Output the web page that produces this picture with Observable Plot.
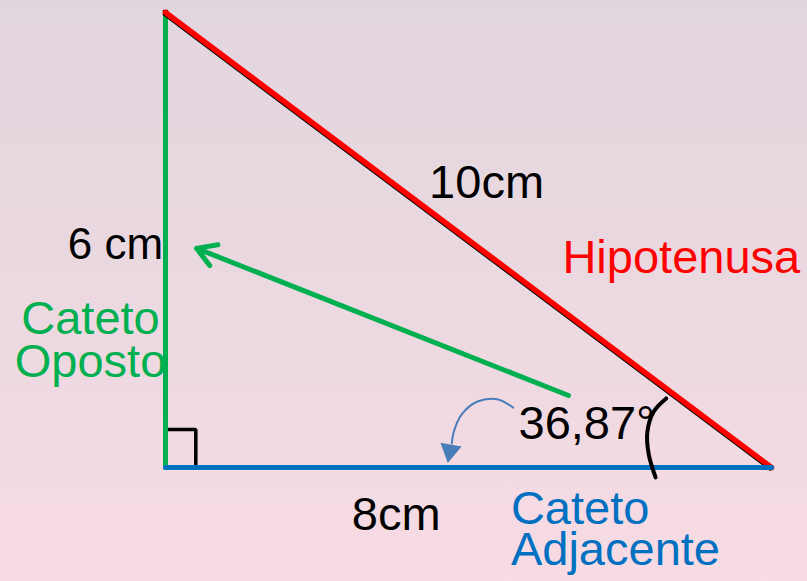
<!DOCTYPE html>
<html><head><meta charset="utf-8">
<script src="https://cdn.jsdelivr.net/npm/d3@7"></script>
<script src="https://cdn.jsdelivr.net/npm/@observablehq/plot@0.6"></script>
<style>html,body{margin:0;padding:0;background:#f3dae2;overflow:hidden}</style>
</head><body><div id="chart"></div>
<script>
// Data (cm)
const sideKeys = ["adjacente", "oposto", "hipotenusa"];
const sideLengths = [8, 6, 10];
const sideLabels = ["8cm", "6 cm", "10cm"];
const nameLabels = ["Cateto\nAdjacente", "Cateto\nOposto", "Hipotenusa"];
const sideColors = ["#0070c0", "#00b050", "#ff0000"];
const angleValue = [36.87];
const angleLabels = ["36,87°"];

const A = {x: 0, y: 0};
const B = {x: sideLengths[0], y: 0};
const C = {x: 0, y: sideLengths[1]};

const font = "Liberation Sans, Arial, sans-serif";
const fs = 47;

// label anchors in cm (diagram units)
const sideLabelPos = [
  {x: 2.46, y: -0.83, fs: 47},
  {x: -1.29, y: 2.75, fs: 44},
  {x: 3.48, y: 3.55, fs: 47}
];
const namePos = [
  {x: 4.56, y: -1.29},
  {x: -0.99, y: 1.19},
  {x: 5.24, y: 2.56}
];

const sideText = sideLabels.map((t, i) => ({t, ...sideLabelPos[i]}));
const nameText = nameLabels.map((t, i) => ({t, c: sideColors[i], ...namePos[i]}));

const arcPts = [
  {x: 6.61, y: 0.91}, {x: 6.44, y: 0.73}, {x: 6.36, y: 0.46},
  {x: 6.38, y: 0.17}, {x: 6.47, y: -0.13}
];
const rightMark = [{x: 0.03, y: 0.5}, {x: 0.40, y: 0.5}, {x: 0.40, y: 0.0}];
const bluePath = [
  {x: 4.59, y: 0.79}, {x: 4.38, y: 0.90}, {x: 4.12, y: 0.87},
  {x: 3.91, y: 0.70}, {x: 3.80, y: 0.45}, {x: 3.78, y: 0.32}
];
const blueHead = [{x: 3.755, y: 0.22}];

const chart = Plot.plot({
  width: 807, height: 581,
  marginLeft: 165, marginRight: 36, marginTop: 12, marginBottom: 114,
  x: {domain: [0, 8], axis: null},
  y: {domain: [0, 6], axis: null},
  style: {background: "linear-gradient(180deg, #e2d6de 0%, #ead8e0 45%, #f8dbe4 100%)", overflow: "visible"},
  marks: [
    // right-angle marker
    Plot.line(rightMark, {x: "x", y: "y", stroke: "black", strokeWidth: 3.5, strokeLinejoin: "miter"}),
    // cateto oposto
    Plot.line([C, A], {x: "x", y: "y", stroke: sideColors[1], strokeWidth: 5}),
    // hypotenuse shadow + red
    Plot.line([C, B], {x: "x", y: "y", stroke: "black", strokeWidth: 2.5, dx: -1.5, dy: 2}),
    Plot.dot([C], {x: "x", y: "y", fill: "black", r: 3, symbol: "square"}),
    Plot.line([C, B], {x: "x", y: "y", stroke: sideColors[2], strokeWidth: 5.5}),
    // cateto adjacente
    Plot.line([A, B], {x: "x", y: "y", stroke: sideColors[0], strokeWidth: 5}),
    // angle arc
    Plot.line(arcPts, {x: "x", y: "y", stroke: "black", strokeWidth: 4, curve: "catmull-rom"}),
    // green arrow
    Plot.arrow([{x1: 5.32, y1: 0.95, x2: 0.41, y2: 2.89}], {
      x1: "x1", y1: "y1", x2: "x2", y2: "y2", stroke: sideColors[1], strokeWidth: 5, headLength: 6.5, headAngle: 62
    }),
    // blue curved arrow
    Plot.line(bluePath, {x: "x", y: "y", stroke: "#4a7ebb", strokeWidth: 2, curve: "catmull-rom"}),
    Plot.dot(blueHead, {x: "x", y: "y", symbol: "triangle", r: 8, fill: "#4a7ebb", rotate: 190}),
    // texts
    Plot.text([sideText[0], sideText[2]], {x: "x", y: "y", text: "t", textAnchor: "start", lineAnchor: "bottom", fill: "black", fontSize: 47, fontFamily: font}),
    Plot.text([sideText[1]], {x: "x", y: "y", text: "t", textAnchor: "start", lineAnchor: "bottom", fill: "black", fontSize: 44, fontFamily: font}),
    Plot.text([nameText[0], nameText[2]], {x: "x", y: "y", text: "t", textAnchor: "start", lineAnchor: "bottom", fill: "c", fontSize: fs, fontFamily: font, lineHeight: 0.88}),
    Plot.text([nameText[1]], {x: "x", y: "y", text: "t", textAnchor: "middle", lineAnchor: "bottom", fill: "c", fontSize: fs, fontFamily: font, lineHeight: 0.92}),
    Plot.text(angleLabels, {x: () => 4.66, y: () => 0.38, text: d => d, textAnchor: "start", lineAnchor: "bottom", fill: "black", fontSize: fs, fontFamily: font})
  ]
});
document.getElementById("chart").append(chart);
</script>
</body></html>
